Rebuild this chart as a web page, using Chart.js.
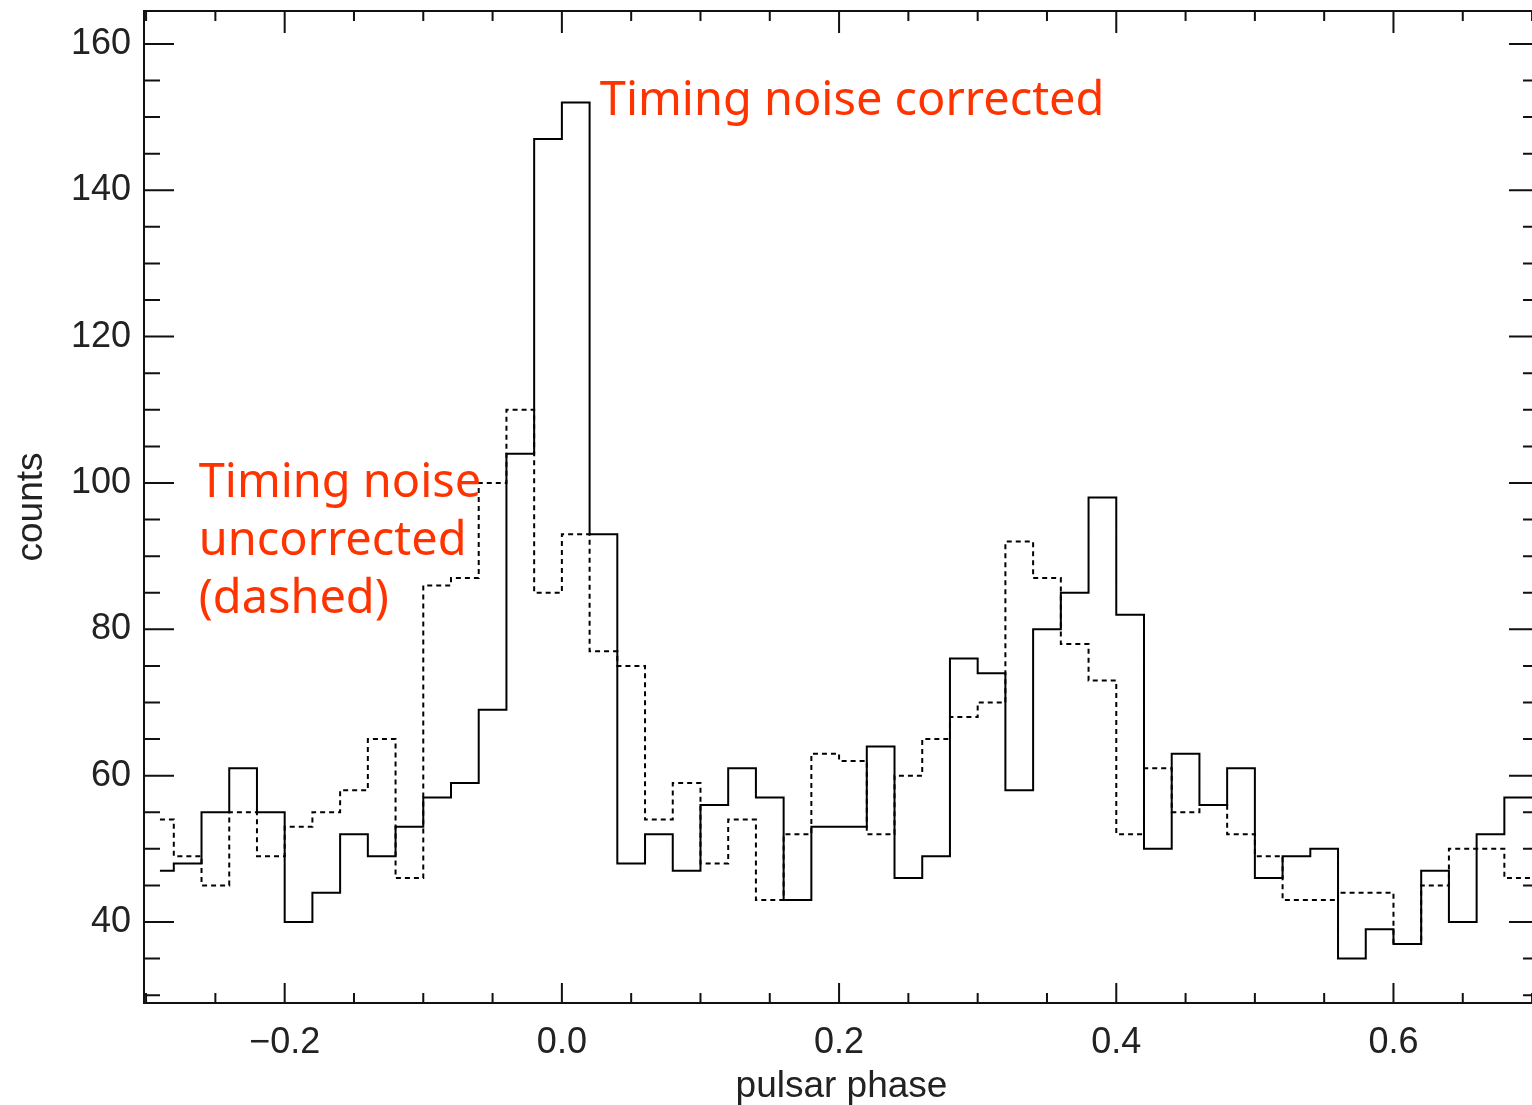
<!DOCTYPE html>
<html>
<head>
<meta charset="utf-8">
<title>pulsar phase</title>
<script src="https://cdn.jsdelivr.net/npm/chart.js@4/dist/chart.umd.min.js"></script>
<style>
  html, body { margin: 0; padding: 0; background: #fff; overflow: hidden; }
  /* the original is cropped just left of its right-hand axis */
  #wrap { width: 1532px; height: 1105px; overflow: hidden; }
</style>
</head>
<body>
<div id="wrap"><canvas id="chart" width="1548" height="1105"></canvas></div>
<script>
// bin centres (pulsar phase) and counts
const phase = [-0.29, -0.27, -0.25, -0.23, -0.21, -0.19, -0.17, -0.15, -0.13, -0.11,
               -0.09, -0.07, -0.05, -0.03, -0.01, 0.01, 0.03, 0.05, 0.07, 0.09,
               0.11, 0.13, 0.15, 0.17, 0.19, 0.21, 0.23, 0.25, 0.27, 0.29,
               0.31, 0.33, 0.35, 0.37, 0.39, 0.41, 0.43, 0.45, 0.47, 0.49,
               0.51, 0.53, 0.55, 0.57, 0.59, 0.61, 0.63, 0.65, 0.67, 0.69]

const corrected = [47, 48, 55, 61, 55, 40, 44, 52, 49, 53,
                   57, 59, 69, 104, 147, 152, 93, 48, 52, 47,
                   56, 61, 57, 43, 53, 53, 64, 46, 49, 76,
                   74, 58, 80, 85, 98, 82, 50, 63, 56, 61,
                   46, 49, 50, 35, 39, 37, 47, 40, 52, 57]

const uncorrected = [54, 49, 45, 55, 49, 53, 55, 58, 65, 46,
                     86, 87, 100, 110, 85, 93, 77, 75, 54, 59,
                     48, 54, 43, 52, 63, 62, 52, 60, 65, 68,
                     70, 92, 87, 78, 73, 52, 61, 55, 56, 52,
                     49, 43, 43, 44, 44, 37, 45, 50, 50, 46]

const xTicks = [-0.2, 0.0, 0.2, 0.4, 0.6]
const yTicks = [40, 60, 80, 100, 120, 140, 160]

const xMin = -0.3015, xMax = 0.705
const yMin = 28.93, yMax = 164.5

const red = 'rgb(255, 51, 0)'
const noteFont = '"Comic Sans MS", "Noto Sans", sans-serif'
const notes = [
	{ lines: ['Timing noise corrected'], x: 0.0274, y: 150.3 },
	{ lines: ['Timing noise', 'uncorrected', '(dashed)'], x: -0.262, y: 98.05 }
]

function toPoints(vals) {
	let pts = phase.map((p, i) => ({ x: p, y: vals[i] }))
	// carry the last bin out to the frame, as the original plot does
	pts.push({ x: xMax, y: vals[vals.length - 1] })
	return pts
}

Chart.defaults.font.family = '"Liberation Sans", Arial, sans-serif'
Chart.defaults.color = '#222'

// box with inward ticks on all four sides
const frame = {
	id: 'frame',
	afterDraw(chart) {
		const { ctx, chartArea: a, scales: { x, y } } = chart
		ctx.save()
		ctx.strokeStyle = '#111'
		ctx.lineWidth = 2
		ctx.strokeRect(a.left, a.top, a.right - a.left, a.bottom - a.top)
		ctx.beginPath()
		for (let k = -6; k <= 14; k++) {
			const px = x.getPixelForValue(k * 0.05)
			if (px <= a.left + 1 || px >= a.right - 1) continue
			const major = k % 4 === 0
			ctx.moveTo(px, a.bottom)
			ctx.lineTo(px, a.bottom - (major ? 20 : 10))
			ctx.moveTo(px, a.top)
			ctx.lineTo(px, a.top + (major ? 22 : 10))
		}
		for (let v = 30; v <= 160; v += 5) {
			const py = y.getPixelForValue(v)
			const major = v % 20 === 0
			ctx.moveTo(a.left, py)
			ctx.lineTo(a.left + (major ? 30 : 16), py)
			ctx.moveTo(a.right, py)
			ctx.lineTo(a.right - (major ? 30 : 16), py)
		}
		ctx.stroke()
		ctx.restore()
	}
}

const labels = {
	id: 'labels',
	afterDraw(chart) {
		const { ctx, scales: { x, y } } = chart
		ctx.save()
		ctx.font = '100px ' + noteFont
		const w = ctx.measureText(notes[0].lines[0]).width
		const size = 100 * 505 / w
		ctx.font = size.toFixed(1) + 'px ' + noteFont
		ctx.fillStyle = red
		ctx.textBaseline = 'alphabetic'
		ctx.textAlign = 'left'
		notes.forEach(n => {
			const px = x.getPixelForValue(n.x)
			const py = y.getPixelForValue(n.y)
			n.lines.forEach((t, i) => ctx.fillText(t, px, py + i * 58))
		})
		ctx.restore()
	}
}

const config = {
	type: 'line',
	data: {
		datasets: [{
			label: 'Timing noise corrected',
			data: toPoints(corrected),
			borderColor: '#000',
			borderWidth: 2,
			stepped: 'middle',
			pointRadius: 0,
			fill: false
		}, {
			label: 'Timing noise uncorrected',
			data: toPoints(uncorrected),
			borderColor: '#000',
			borderWidth: 2,
			borderDash: [5, 4],
			stepped: 'middle',
			pointRadius: 0,
			fill: false
		}]
	},
	options: {
		responsive: false,
		animation: false,
		layout: { padding: { top: 11, right: 9, left: 0, bottom: 0 } },
		scales: {
			x: {
				type: 'linear',
				min: xMin,
				max: xMax,
				grid: { display: false, drawTicks: false },
				border: { display: false },
				afterBuildTicks: s => { s.ticks = xTicks.map(v => ({ value: v })) },
				afterFit: s => { s.height = 102; s.paddingLeft = 0; s.paddingRight = 0 },
				ticks: {
					padding: 18,
					maxRotation: 0,
					autoSkip: false,
					font: { size: 36 },
					callback: v => (Math.abs(v) < 1e-9 ? '0.0' : (v < 0 ? '\u2212' : '') + Math.abs(v).toFixed(1))
				},
				title: {
					display: true,
					text: 'pulsar phase',
					font: { size: 37, lineHeight: 1 },
					padding: { top: 0, bottom: 0 }
				}
			},
			y: {
				min: yMin,
				max: yMax,
				grid: { display: false, drawTicks: false },
				border: { display: false },
				afterBuildTicks: s => { s.ticks = yTicks.map(v => ({ value: v })) },
				afterFit: s => { s.width = 144; s.paddingTop = 0; s.paddingBottom = 0 },
				ticks: {
					padding: 13,
					autoSkip: false,
					font: { size: 36 },
					callback: v => String(v)
				},
				title: {
					display: true,
					text: 'counts',
					font: { size: 37, lineHeight: 1 },
					padding: { top: 13, bottom: 0 }
				}
			}
		},
		plugins: {
			legend: { display: false },
			tooltip: { enabled: false }
		}
	},
	plugins: [frame, labels]
}

var myChart = new Chart(document.getElementById('chart'), config)
</script>
</body>
</html>
